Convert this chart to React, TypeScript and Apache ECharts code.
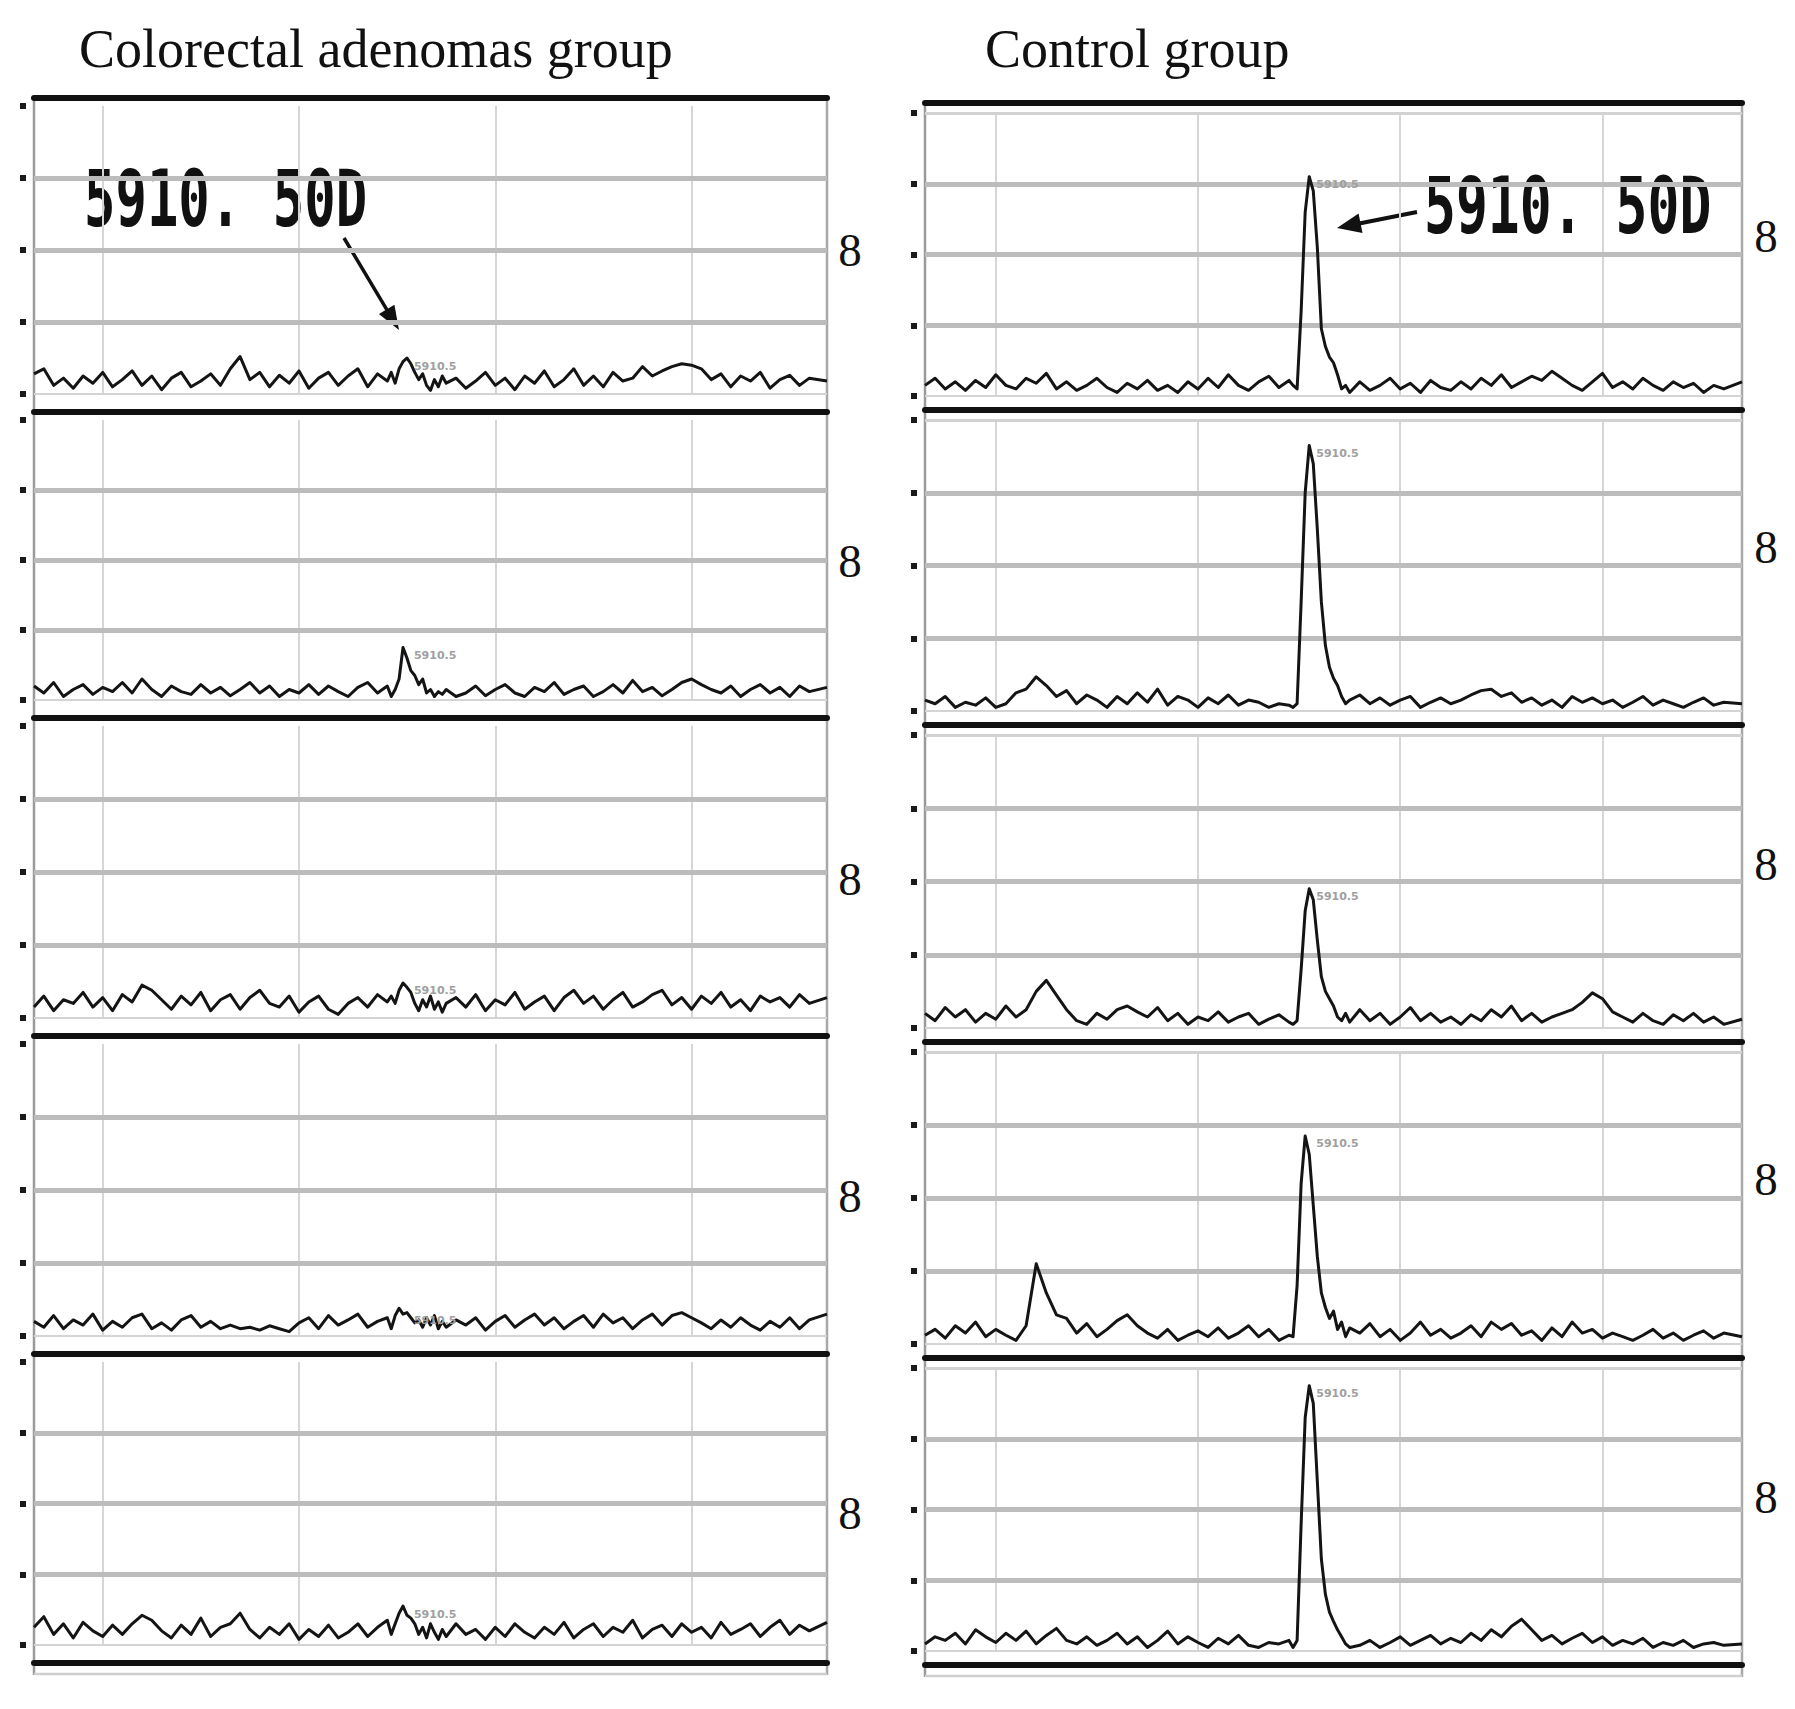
import React, { useEffect, useRef } from "react";
import * as echarts from "echarts";

// ---------- DATA ----------
// m/z sample positions shared by every trace
const MZ: number[] = [
  5530, 5540, 5550, 5560, 5570, 5580, 5590, 5600, 5610, 5620,
  5630, 5640, 5650, 5660, 5670, 5680, 5690, 5700, 5710, 5720,
  5730, 5740, 5750, 5760, 5770, 5780, 5790, 5800, 5810, 5820,
  5830, 5840, 5850, 5860, 5870, 5880, 5890,
  5894, 5898, 5902, 5906, 5910, 5914, 5918, 5922, 5926, 5930, 5934, 5938, 5942, 5946, 5950,
  5960, 5970, 5980, 5990, 6000, 6010, 6020, 6030, 6040, 6050,
  6060, 6070, 6080, 6090, 6100, 6110, 6120, 6130, 6140, 6150,
  6160, 6170, 6180, 6190, 6200, 6210, 6220, 6230, 6240, 6250,
  6260, 6270, 6280, 6290, 6300, 6310, 6320, 6338,
];

// Colorectal adenomas group (intensity, grid units)
const ADENOMA_1 = [
  0.28, 0.35, 0.12, 0.22, 0.08, 0.25, 0.15, 0.3, 0.1, 0.2,
  0.32, 0.12, 0.25, 0.06, 0.22, 0.3, 0.1, 0.18, 0.28, 0.12,
  0.35, 0.52, 0.2, 0.3, 0.1, 0.26, 0.15, 0.32, 0.08, 0.22,
  0.3, 0.12, 0.25, 0.35, 0.1, 0.28, 0.18,
  0.3, 0.15, 0.35, 0.45, 0.5, 0.42, 0.3, 0.2, 0.28, 0.12, 0.05, 0.2, 0.1, 0.25, 0.15,
  0.22, 0.08, 0.18, 0.3, 0.12, 0.22, 0.06, 0.25, 0.15, 0.32,
  0.1, 0.2, 0.35, 0.12, 0.25, 0.1, 0.3, 0.18, 0.22, 0.38,
  0.25, 0.32, 0.38, 0.42, 0.4, 0.35, 0.2, 0.28, 0.1, 0.25,
  0.18, 0.3, 0.08, 0.2, 0.26, 0.12, 0.22, 0.18,
];
const ADENOMA_2 = [
  0.2, 0.1, 0.25, 0.05, 0.15, 0.22, 0.08, 0.18, 0.12, 0.25,
  0.1, 0.3, 0.15, 0.05, 0.2, 0.12, 0.08, 0.22, 0.1, 0.18,
  0.06, 0.15, 0.25, 0.1, 0.2, 0.05, 0.15, 0.1, 0.22, 0.08,
  0.2, 0.12, 0.05, 0.18, 0.25, 0.1, 0.2,
  0.05, 0.15, 0.3, 0.75, 0.6, 0.42, 0.35, 0.22, 0.3, 0.1, 0.15, 0.05, 0.12, 0.08, 0.15,
  0.05, 0.1, 0.2, 0.06, 0.15, 0.22, 0.1, 0.05, 0.18, 0.12,
  0.25, 0.08, 0.15, 0.2, 0.05, 0.12, 0.22, 0.1, 0.28, 0.12,
  0.18, 0.06, 0.15, 0.25, 0.3, 0.22, 0.15, 0.1, 0.2, 0.05,
  0.15, 0.22, 0.1, 0.18, 0.05, 0.2, 0.12, 0.18,
];
const ADENOMA_3 = [
  0.15, 0.3, 0.1, 0.25, 0.2, 0.35, 0.15, 0.28, 0.1, 0.32,
  0.22, 0.45, 0.38, 0.25, 0.12, 0.3, 0.18, 0.35, 0.1, 0.25,
  0.32, 0.12, 0.28, 0.38, 0.2, 0.15, 0.3, 0.08, 0.22, 0.3,
  0.12, 0.05, 0.2, 0.28, 0.15, 0.32, 0.22,
  0.3, 0.2, 0.38, 0.48, 0.42, 0.35, 0.2, 0.1, 0.25, 0.15, 0.3, 0.12, 0.22, 0.08, 0.2,
  0.28, 0.15, 0.32, 0.1, 0.25, 0.18, 0.35, 0.12, 0.22, 0.3,
  0.1, 0.28, 0.38, 0.2, 0.3, 0.12, 0.25, 0.35, 0.15, 0.22,
  0.32, 0.38, 0.18, 0.28, 0.12, 0.3, 0.2, 0.35, 0.15, 0.25,
  0.1, 0.3, 0.22, 0.28, 0.15, 0.32, 0.2, 0.28,
];
const ADENOMA_4 = [
  0.2, 0.12, 0.28, 0.1, 0.22, 0.15, 0.3, 0.08, 0.2, 0.12,
  0.25, 0.3, 0.1, 0.18, 0.08, 0.22, 0.28, 0.12, 0.2, 0.1,
  0.15, 0.1, 0.12, 0.08, 0.14, 0.1, 0.06, 0.18, 0.25, 0.1,
  0.28, 0.15, 0.22, 0.3, 0.12, 0.2, 0.25,
  0.1, 0.28, 0.38, 0.3, 0.32, 0.25, 0.18, 0.22, 0.12, 0.25, 0.15, 0.28, 0.1, 0.2, 0.12,
  0.22, 0.15, 0.25, 0.08, 0.2, 0.28, 0.12, 0.22, 0.3, 0.15,
  0.25, 0.1, 0.2, 0.28, 0.12, 0.3, 0.18, 0.25, 0.1, 0.22,
  0.3, 0.15, 0.28, 0.32, 0.25, 0.18, 0.1, 0.22, 0.12, 0.25,
  0.15, 0.08, 0.2, 0.12, 0.25, 0.1, 0.22, 0.3,
];
const ADENOMA_5 = [
  0.25, 0.4, 0.15, 0.3, 0.1, 0.32, 0.2, 0.12, 0.28, 0.15,
  0.3, 0.42, 0.35, 0.2, 0.1, 0.28, 0.15, 0.38, 0.12, 0.25,
  0.3, 0.45, 0.22, 0.1, 0.25, 0.15, 0.3, 0.08, 0.22, 0.12,
  0.28, 0.1, 0.18, 0.3, 0.12, 0.25, 0.35,
  0.15, 0.3, 0.45, 0.55, 0.42, 0.38, 0.3, 0.15, 0.25, 0.1, 0.3, 0.18, 0.08, 0.22, 0.12,
  0.3, 0.15, 0.22, 0.08, 0.25, 0.12, 0.3, 0.18, 0.1, 0.25,
  0.15, 0.32, 0.1, 0.22, 0.3, 0.12, 0.25, 0.18, 0.35, 0.1,
  0.22, 0.28, 0.12, 0.3, 0.18, 0.25, 0.1, 0.32, 0.15, 0.22,
  0.3, 0.12, 0.25, 0.35, 0.15, 0.28, 0.2, 0.32,
];

// Control group
const CONTROL_1 = [
  0.15, 0.25, 0.1, 0.2, 0.08, 0.22, 0.12, 0.3, 0.15, 0.1,
  0.25, 0.18, 0.32, 0.1, 0.2, 0.08, 0.15, 0.25, 0.12, 0.05,
  0.18, 0.1, 0.22, 0.08, 0.15, 0.05, 0.2, 0.1, 0.25, 0.12,
  0.3, 0.15, 0.08, 0.2, 0.28, 0.12, 0.22,
  0.15, 0.1, 1.2, 2.6, 3.1, 2.9, 2.1, 0.95, 0.7, 0.55, 0.47, 0.3, 0.1, 0.15, 0.05,
  0.2, 0.08, 0.15, 0.25, 0.1, 0.18, 0.05, 0.22, 0.12, 0.08,
  0.2, 0.1, 0.25, 0.15, 0.3, 0.12, 0.2, 0.28, 0.22, 0.35,
  0.25, 0.15, 0.08, 0.2, 0.32, 0.12, 0.2, 0.1, 0.25, 0.15,
  0.08, 0.2, 0.12, 0.18, 0.05, 0.15, 0.1, 0.2,
];
const CONTROL_2 = [
  0.15, 0.1, 0.2, 0.05, 0.12, 0.08, 0.18, 0.05, 0.1, 0.25,
  0.3, 0.47, 0.35, 0.2, 0.28, 0.1, 0.22, 0.15, 0.05, 0.2,
  0.1, 0.25, 0.12, 0.3, 0.08, 0.2, 0.15, 0.05, 0.18, 0.1,
  0.22, 0.08, 0.15, 0.12, 0.05, 0.1, 0.08,
  0.05, 0.1, 1.5, 3.0, 3.65, 3.4, 2.5, 1.5, 0.9, 0.6, 0.45, 0.35, 0.2, 0.1, 0.15,
  0.22, 0.1, 0.18, 0.08, 0.15, 0.2, 0.05, 0.12, 0.18, 0.1,
  0.15, 0.22, 0.28, 0.3, 0.2, 0.25, 0.12, 0.18, 0.08, 0.15,
  0.05, 0.2, 0.12, 0.18, 0.1, 0.15, 0.05, 0.12, 0.2, 0.08,
  0.15, 0.1, 0.05, 0.12, 0.18, 0.08, 0.12, 0.1,
];
const CONTROL_3 = [
  0.2, 0.1, 0.28, 0.15, 0.25, 0.08, 0.2, 0.12, 0.3, 0.15,
  0.25, 0.5, 0.65, 0.45, 0.25, 0.1, 0.05, 0.2, 0.12, 0.25,
  0.3, 0.22, 0.15, 0.28, 0.1, 0.2, 0.05, 0.15, 0.1, 0.22,
  0.08, 0.15, 0.2, 0.05, 0.12, 0.18, 0.08,
  0.05, 0.1, 0.8, 1.6, 1.9, 1.75, 1.2, 0.7, 0.5, 0.4, 0.3, 0.15, 0.1, 0.2, 0.08,
  0.25, 0.1, 0.2, 0.05, 0.15, 0.28, 0.1, 0.2, 0.08, 0.15,
  0.05, 0.18, 0.1, 0.25, 0.15, 0.3, 0.1, 0.2, 0.08, 0.15,
  0.2, 0.25, 0.35, 0.48, 0.4, 0.22, 0.15, 0.08, 0.2, 0.1,
  0.05, 0.18, 0.1, 0.2, 0.08, 0.15, 0.05, 0.12,
];
const CONTROL_4 = [
  0.12, 0.2, 0.08, 0.25, 0.15, 0.3, 0.1, 0.2, 0.12, 0.05,
  0.25, 1.1, 0.7, 0.4, 0.35, 0.15, 0.28, 0.1, 0.2, 0.32,
  0.4, 0.25, 0.15, 0.08, 0.2, 0.05, 0.12, 0.18, 0.1, 0.22,
  0.08, 0.15, 0.25, 0.1, 0.2, 0.05, 0.12,
  0.1, 0.8, 2.2, 2.85, 2.6, 1.9, 1.2, 0.7, 0.5, 0.35, 0.45, 0.2, 0.3, 0.1, 0.22,
  0.15, 0.28, 0.1, 0.2, 0.05, 0.15, 0.3, 0.12, 0.2, 0.08,
  0.15, 0.25, 0.1, 0.3, 0.2, 0.28, 0.12, 0.18, 0.05, 0.22,
  0.1, 0.3, 0.15, 0.2, 0.08, 0.15, 0.1, 0.05, 0.12, 0.2,
  0.08, 0.15, 0.05, 0.12, 0.18, 0.08, 0.15, 0.1,
];
const CONTROL_5 = [
  0.1, 0.2, 0.15, 0.25, 0.1, 0.3, 0.2, 0.12, 0.25, 0.15,
  0.28, 0.1, 0.22, 0.32, 0.15, 0.1, 0.2, 0.08, 0.15, 0.25,
  0.1, 0.2, 0.05, 0.15, 0.28, 0.1, 0.2, 0.12, 0.05, 0.18,
  0.1, 0.22, 0.08, 0.05, 0.12, 0.1, 0.15,
  0.05, 0.15, 1.8, 3.3, 3.75, 3.5, 2.4, 1.3, 0.8, 0.55, 0.42, 0.3, 0.2, 0.1, 0.05,
  0.08, 0.15, 0.05, 0.12, 0.2, 0.08, 0.15, 0.22, 0.1, 0.18,
  0.12, 0.25, 0.15, 0.3, 0.2, 0.35, 0.45, 0.3, 0.15, 0.22,
  0.1, 0.18, 0.25, 0.12, 0.2, 0.08, 0.15, 0.1, 0.18, 0.05,
  0.12, 0.08, 0.15, 0.05, 0.1, 0.12, 0.08, 0.1,
];

const ADENOMA_TRACES = [ADENOMA_1, ADENOMA_2, ADENOMA_3, ADENOMA_4, ADENOMA_5];
const CONTROL_TRACES = [CONTROL_1, CONTROL_2, CONTROL_3, CONTROL_4, CONTROL_5];

const MZ_MIN = 5530;
const MZ_MAX = 6338;
const MZ_GRID = [5600, 5800, 6000, 6200];
const INTENSITY_GRID = [1, 2, 3];
const PEAK_MZ = 5910;
const PEAK_TAG = "5910.5";
const ANNOTATION = "5910. 50D";
const GROUP_TITLES = ["Colorectal adenomas group", "Control group"];
const PANEL_TAG = "8";

// ---------- LAYOUT ----------
const W = 1795;
const H = 1709;
const COLUMNS = [
  {
    left: 34, right: 827,
    lines: [98, 412, 718, 1036, 1354, 1663],
    topPad: 8, basePad: 18, lightTop: false,
    traces: ADENOMA_TRACES,
    tagX: 850, tagY: [250, 561, 879, 1196, 1513],
    titleX: 79,
  },
  {
    left: 925, right: 1742,
    lines: [103, 410, 725, 1042, 1358, 1665],
    topPad: 10, basePad: 14, lightTop: true,
    traces: CONTROL_TRACES,
    tagX: 1766, tagY: [236, 547, 864, 1179, 1497],
    titleX: 985,
  },
];

function arrow(x1: number, y1: number, x2: number, y2: number, len: number, half: number, width: number) {
  const dx = x2 - x1, dy = y2 - y1;
  const d = Math.hypot(dx, dy);
  const ux = dx / d, uy = dy / d;
  const bx = x2 - ux * len, by = y2 - uy * len;
  return [
    { type: "line", shape: { x1, y1, x2: bx + ux * 4, y2: by + uy * 4 }, style: { stroke: "#111", lineWidth: width } },
    {
      type: "polygon",
      shape: { points: [[x2, y2], [bx - uy * half, by + ux * half], [bx + uy * half, by - ux * half]] },
      style: { fill: "#111" },
    },
  ];
}

function buildOption() {
  const grid: any[] = [];
  const xAxis: any[] = [];
  const yAxis: any[] = [];
  const series: any[] = [];
  const graphic: any[] = [];
  const peakIdx = MZ.indexOf(PEAK_MZ);

  COLUMNS.forEach((col, ci) => {
    col.traces.forEach((trace, pi) => {
      const T = col.lines[pi];
      const B = col.lines[pi + 1];
      const gi = grid.length;
      const top = T + col.topPad;
      const bottom = B - col.basePad;
      grid.push({ left: col.left, top, width: col.right - col.left, height: bottom - top });

      const xi = xAxis.length;
      xAxis.push({
        type: "value", gridIndex: gi, min: MZ_MIN, max: MZ_MAX, position: "bottom", offset: col.basePad,
        axisLine: { show: true, onZero: false, lineStyle: { color: "#111", width: 6 } },
        axisTick: { show: false }, axisLabel: { show: false }, splitLine: { show: false },
      });
      if (pi === 0) {
        xAxis.push({
          type: "value", gridIndex: gi, min: MZ_MIN, max: MZ_MAX, position: "top", offset: col.topPad,
          axisLine: { show: true, onZero: false, lineStyle: { color: "#111", width: 6 } },
          axisTick: { show: false }, axisLabel: { show: false }, splitLine: { show: false },
        });
      }
      yAxis.push({
        type: "value", gridIndex: gi, min: 0, max: 4, interval: 1, position: "left", offset: 8,
        axisLine: { show: false },
        axisTick: { show: true, length: 6, lineStyle: { color: "#1a1a1a", width: 6 } },
        axisLabel: { show: false }, splitLine: { show: false },
      });

      const lines: any[] = [];
      MZ_GRID.forEach((m) => lines.push({ xAxis: m, lineStyle: { color: "#d6d6d6", width: 2, type: "solid" } }));
      INTENSITY_GRID.forEach((v) => lines.push({ yAxis: v, lineStyle: { color: "#bcbcbc", width: 5, type: "solid" } }));
      lines.push({ yAxis: 0, lineStyle: { color: "#d4d4d4", width: 2, type: "solid" } });
      if (col.lightTop) lines.push({ yAxis: 4, lineStyle: { color: "#d2d2d2", width: 3, type: "solid" } });

      const peakVal = Math.max(trace[peakIdx - 1], trace[peakIdx], trace[peakIdx + 1]);

      series.push({
        type: "line",
        xAxisIndex: xi,
        yAxisIndex: gi,
        data: MZ.map((m, k) => [m, trace[k]]),
        symbol: "none",
        showSymbol: false,
        silent: true,
        z: 3,
        lineStyle: { color: "#141414", width: 3, join: "round" },
        markLine: {
          silent: true, symbol: "none", z: 1, animation: false,
          label: { show: false }, emphasis: { disabled: true },
          data: lines,
        },
        markPoint: {
          silent: true, symbol: "circle", symbolSize: 0, animation: false,
          data: [{ coord: [PEAK_MZ, peakVal] }],
          label: {
            show: true, position: "right", offset: [2, 8], formatter: PEAK_TAG,
            fontSize: 11, fontWeight: "bold", color: "#a0a0a0", fontFamily: "DejaVu Sans",
          },
        },
      });

      graphic.push({
        type: "text", x: col.tagX, y: col.tagY[pi], silent: true,
        style: { text: PANEL_TAG, fontFamily: "Liberation Serif", fontSize: 47, fill: "#111", align: "center", verticalAlign: "middle" },
      });
    });

    // column frame borders
    graphic.push({
      type: "line", silent: true,
      shape: { x1: col.left, y1: col.lines[0], x2: col.left, y2: col.lines[5] + 12 },
      style: { stroke: "#9a9a9a", lineWidth: 2.5 },
    });
    graphic.push({
      type: "line", silent: true,
      shape: { x1: col.right, y1: col.lines[0], x2: col.right, y2: col.lines[5] + 12 },
      style: { stroke: "#a8a8a8", lineWidth: 2.5 },
    });
    graphic.push({
      type: "line", silent: true,
      shape: { x1: col.left, y1: col.lines[5] + 11, x2: col.right, y2: col.lines[5] + 11 },
      style: { stroke: "#cfcfcf", lineWidth: 2.5 },
    });
    graphic.push({
      type: "text", x: col.titleX, y: 49, silent: true,
      style: { text: GROUP_TITLES[ci], fontFamily: "Liberation Serif", fontSize: 54, fill: "#111", align: "left", verticalAlign: "middle" },
    });
  });

  // annotations
  graphic.push({
    type: "text", x: 84, y: 199, scaleX: 0.67, silent: true,
    style: { text: ANNOTATION, fontFamily: "DejaVu Sans Mono", fontWeight: "bold", fontSize: 78, fill: "#111", align: "left", verticalAlign: "middle" },
  });
  graphic.push({
    type: "text", x: 1424, y: 206, scaleX: 0.68, silent: true,
    style: { text: ANNOTATION, fontFamily: "DejaVu Sans Mono", fontWeight: "bold", fontSize: 78, fill: "#111", align: "left", verticalAlign: "middle" },
  });
  arrow(344, 238, 399, 330, 24, 9, 3.5).forEach((g) => graphic.push({ ...g, silent: true }));
  arrow(1417, 212, 1337, 228, 24, 10, 4).forEach((g) => graphic.push({ ...g, silent: true }));

  return {
    animation: false,
    backgroundColor: "#ffffff",
    grid,
    xAxis,
    yAxis,
    series,
    graphic,
  };
}

export default function App() {
  const ref = useRef<HTMLDivElement>(null);
  useEffect(() => {
    if (!ref.current) return;
    const chart = echarts.init(ref.current, undefined, { renderer: "svg", width: W, height: H });
    chart.setOption(buildOption() as any);
    return () => chart.dispose();
  }, []);
  return <div ref={ref} style={{ position: "absolute", left: 0, top: 0, width: W, height: H }} />;
}
